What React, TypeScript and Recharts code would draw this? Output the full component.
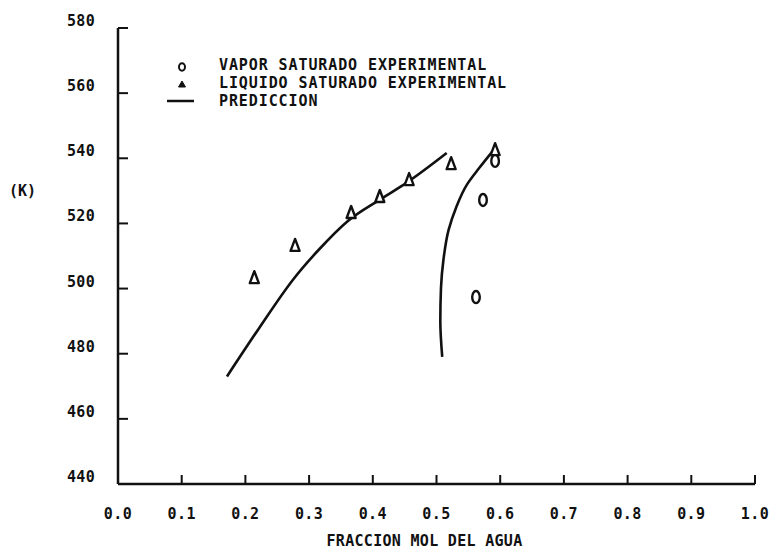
import React from 'react';
import { ComposedChart, Line, Scatter, XAxis, YAxis, Customized } from 'recharts';

const xTicks = [0, 0.1, 0.2, 0.3, 0.4, 0.5, 0.6, 0.7, 0.8, 0.9, 1.0];
const yTicks = [440, 460, 480, 500, 520, 540, 560, 580];

// Experimental saturated liquid (triangles)
const liquidX = [0.214, 0.278, 0.366, 0.411, 0.457, 0.523, 0.592];
const liquidY = [503.2, 513.1, 523.2, 528.1, 533.3, 538.2, 542.5];

// Experimental saturated vapor (circles)
const vaporX = [0.562, 0.573, 0.592];
const vaporY = [497.4, 527.2, 539.2];

// Prediction - liquid branch
const predLiqX = [0.171, 0.222, 0.275, 0.317, 0.36, 0.411, 0.454, 0.516];
const predLiqY = [473.0, 488.0, 502.8, 512.3, 520.6, 527.3, 532.6, 541.6];

// Prediction - vapor branch
const predVapX = [0.509, 0.506, 0.507, 0.511, 0.519, 0.531, 0.548, 0.567, 0.587];
const predVapY = [479.0, 490.0, 500.0, 509.0, 518.0, 525.0, 532.0, 537.0, 541.9];

const zip = (xs: number[], ys: number[]) => xs.map((x, i) => ({ x, y: ys[i] }));
const liquidData = zip(liquidX, liquidY);
const vaporData = zip(vaporX, vaporY);
const predLiqData = zip(predLiqX, predLiqY);
const predVapData = zip(predVapX, predVapY);

const FONT = "'DejaVu Sans Mono', 'Liberation Mono', monospace";
const INK = '#111';

const fmtX = (v: number) => v.toFixed(1);

const XTick = (props: any) => {
  const { x, y, payload } = props;
  return (
    <g>
      <line x1={x} y1={y} x2={x} y2={y - 9} stroke={INK} strokeWidth={2} />
      <text x={x} y={y + 35} textAnchor="middle" fontFamily={FONT} fontWeight="bold" fontSize={15} letterSpacing={0.4} fill={INK}>
        {fmtX(payload.value)}
      </text>
    </g>
  );
};

const YTick = (props: any) => {
  const { x, y, payload } = props;
  return (
    <g>
      <line x1={x} y1={y} x2={x + 10} y2={y} stroke={INK} strokeWidth={2} />
      <text x={x - 23} y={y - 2} textAnchor="end" fontFamily={FONT} fontWeight="bold" fontSize={15} letterSpacing={0.3} fill={INK}>
        {payload.value}
      </text>
    </g>
  );
};

const Ellipse = (props: any) => {
  const { cx, cy } = props;
  return <ellipse cx={cx} cy={cy} rx={3.8} ry={6} fill="none" stroke={INK} strokeWidth={2.4} />;
};

const Tri = (props: any) => {
  const { cx, cy } = props;
  const d = `M${cx},${cy - 7} L${cx + 4.5},${cy + 5} L${cx - 4.5},${cy + 5} Z`;
  return <path d={d} fill="#fff" stroke={INK} strokeWidth={2.4} strokeLinejoin="round" />;
};

const legendItems = [
  { label: 'VAPOR SATURADO EXPERIMENTAL', kind: 'circle' },
  { label: 'LIQUIDO SATURADO EXPERIMENTAL', kind: 'tri' },
  { label: 'PREDICCION', kind: 'line' },
];

const LegendBlock = () => {
  const lx = 174;
  const tx = 211;
  const ys = [57, 75, 93];
  return (
    <g>
      {legendItems.map((it, i) => (
        <g key={it.label}>
          {it.kind === 'circle' && (
            <ellipse cx={lx} cy={ys[i] + 2} rx={3} ry={3.8} fill="none" stroke={INK} strokeWidth={2} />
          )}
          {it.kind === 'tri' && (
            <path d={`M${lx},${ys[i] - 2} L${lx + 3.5},${ys[i] + 4} L${lx - 3.5},${ys[i] + 4} Z`} fill={INK} stroke={INK} strokeWidth={1} />
          )}
          {it.kind === 'line' && (
            <line x1={lx - 15} y1={ys[i]} x2={lx + 12} y2={ys[i]} stroke={INK} strokeWidth={2.5} />
          )}
          <text x={tx} y={ys[i] + 5} fontFamily={FONT} fontWeight="bold" fontSize={15} letterSpacing={0.9} fill={INK}>
            {it.label}
          </text>
        </g>
      ))}
      <text x={1} y={188} fontFamily={FONT} fontWeight="bold" fontSize={15} fill={INK}>(K)</text>
    </g>
  );
};

export default function App() {
  return (
    <div style={{ background: '#fff', width: 769, height: 548 }}>
      <ComposedChart width={769} height={548} margin={{ top: 20, right: 22, bottom: 0, left: 0 }}>
        <XAxis
          xAxisId="b"
          dataKey="x"
          type="number"
          domain={[0, 1]}
          ticks={xTicks}
          allowDataOverflow
          height={72}
          tickSize={0}
          tickMargin={0}
          tickLine={false}
          axisLine={{ stroke: INK, strokeWidth: 2.5 }}
          tick={<XTick />}
          interval={0}
          label={{ value: 'FRACCION MOL DEL AGUA', position: 'insideBottom', offset: 10, dx: -12, fontFamily: FONT, fontWeight: 'bold', fontSize: 15, letterSpacing: 0.3, fill: INK }}
        />
        <XAxis xAxisId="t" orientation="top" type="number" domain={[0, 1]} height={0} tick={false} tickLine={false} axisLine={{ stroke: INK, strokeWidth: 2.5 }} />
        <YAxis
          yAxisId="l"
          dataKey="y"
          type="number"
          domain={[440, 580]}
          ticks={yTicks}
          allowDataOverflow
          width={110}
          tickSize={0}
          tickMargin={0}
          tickLine={false}
          axisLine={{ stroke: INK, strokeWidth: 2.5 }}
          tick={<YTick />}
          interval={0}
        />
        <YAxis yAxisId="r" orientation="right" type="number" domain={[440, 580]} width={0} tick={false} tickLine={false} axisLine={{ stroke: INK, strokeWidth: 2.5 }} />
        <Line xAxisId="b" yAxisId="l" data={predLiqData} dataKey="y" type="monotoneX" stroke={INK} strokeWidth={2.6} dot={false} isAnimationActive={false} />
        <Line xAxisId="b" yAxisId="l" data={predVapData} dataKey="y" type="monotoneY" stroke={INK} strokeWidth={2.6} dot={false} isAnimationActive={false} />
        <Scatter xAxisId="b" yAxisId="l" data={vaporData} dataKey="y" shape={<Ellipse />} isAnimationActive={false} />
        <Scatter xAxisId="b" yAxisId="l" data={liquidData} dataKey="y" shape={<Tri />} isAnimationActive={false} />
        <Customized component={<LegendBlock />} />
      </ComposedChart>
    </div>
  );
}
